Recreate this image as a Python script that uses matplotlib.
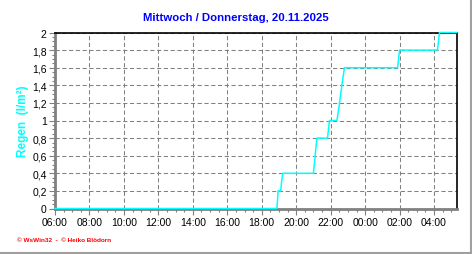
import numpy as np
import matplotlib.pyplot as plt
from matplotlib.lines import Line2D
from matplotlib.ticker import MultipleLocator, FuncFormatter

plt.rcParams.update({
    'font.family': ['Liberation Sans', 'DejaVu Sans'],
    'font.size': 7.5,
})

# Cumulative rain (time of day, l/m2)
times = ['06:00', '18:53', '18:57', '19:06', '19:09', '19:13', '21:00', '21:06',
         '21:12', '21:49', '21:56', '22:22', '22:31', '22:39', '22:48', '01:53',
         '02:00', '04:12', '04:19', '05:20']
rain = [0.0, 0.0, 0.2, 0.2, 0.3, 0.4, 0.4, 0.6,
        0.8, 0.8, 1.0, 1.0, 1.2, 1.4, 1.6, 1.6,
        1.8, 1.8, 2.0, 2.0]
tick_labels = ['06:00', '08:00', '10:00', '12:00', '14:00', '16:00',
               '18:00', '20:00', '22:00', '00:00', '02:00', '04:00']
x_end = '05:20'
title = 'Mittwoch / Donnerstag, 20.11.2025'


def to_hours(t):
    # hours since 06:00 of the first day
    h, m = map(int, t.split(':'))
    v = h + m / 60 - 6
    return v + 24 if v < 0 else v


x = [to_hours(t) for t in times]

fig = plt.figure(figsize=(4.72, 2.55), dpi=100)
ax = fig.add_axes([55 / 472, 1 - 209.5 / 255, 402 / 472, 176 / 255])

ax.plot(x, rain, color='#00ffff', linewidth=1.1, zorder=3, clip_on=False)

ax.set_xlim(0, to_hours(x_end))
ax.set_ylim(0, 2)
ax.set_xticks([to_hours(t) for t in tick_labels])
ax.set_xticklabels(tick_labels)
ax.xaxis.set_minor_locator(MultipleLocator(0.5))
ax.yaxis.set_major_locator(MultipleLocator(0.2))
ax.yaxis.set_minor_locator(MultipleLocator(0.05))
ax.yaxis.set_major_formatter(FuncFormatter(
    lambda v, p: ('%.1f' % v).rstrip('0').rstrip('.').replace('.', ',')))

ax.grid(True, which='major', color='#808080', linewidth=0.75,
        linestyle=(0, (4, 2.5)))
ax.set_axisbelow(True)

ax.tick_params(axis='both', which='major', length=4, width=0.8,
               color='#808080', labelsize=7.5, pad=2)
ax.tick_params(axis='x', which='minor', length=2.5, width=0.8, color='#808080')
ax.tick_params(axis='y', which='minor', length=2, width=0.8, color='#808080')

for s in ['left', 'bottom']:
    ax.spines[s].set_color('#808080')
    ax.spines[s].set_linewidth(2)
for s in ['top', 'right']:
    ax.spines[s].set_color('black')
    ax.spines[s].set_linewidth(1.2)

ax.set_ylabel('Regen  (l/m²)', color='#00ffff', fontweight='bold',
              fontsize=8.5, labelpad=2)

fig.text(236 / 472, 1 - 18 / 255, title, color='#0000ff', fontweight='bold',
         fontsize=8.2, ha='center', va='center')
fig.text(17 / 472, 1 - 241 / 255, '© WsWin32  -  © Heiko Blödorn',
         color='#ff0000', fontweight='bold', fontsize=4.6, va='center')

# grey frame on the right and bottom edges
fig.add_artist(Line2D([0, 1], [0.002, 0.002], color='#a0a0a0', linewidth=1.5,
                      transform=fig.transFigure))
fig.add_artist(Line2D([0.998, 0.998], [0, 1], color='#a0a0a0', linewidth=1.5,
                      transform=fig.transFigure))

fig.savefig('out.png', dpi=100)
